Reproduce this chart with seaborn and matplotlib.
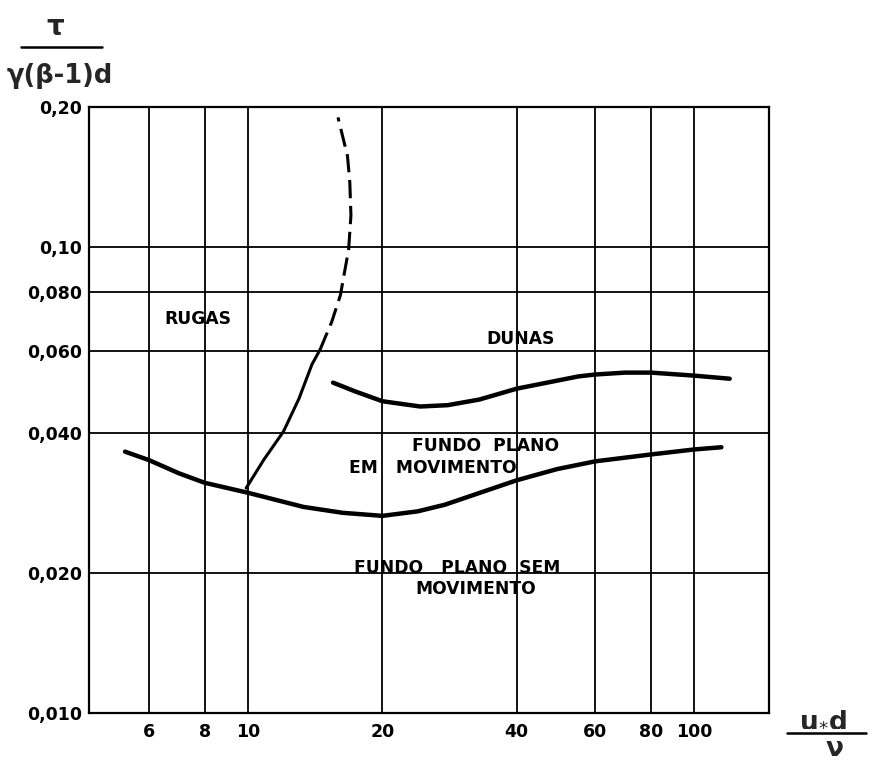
import matplotlib
matplotlib.use("Agg")
import matplotlib.pyplot as plt
import seaborn as sns
import pandas as pd
from matplotlib.ticker import NullLocator, FixedLocator, FixedFormatter
from matplotlib.lines import Line2D

# ---- data ----
x_ticks = [6, 8, 10, 20, 40, 60, 80, 100]
x_tick_labels = ["6", "8", "10", "20", "40", "60", "80", "100"]
y_ticks = [0.010, 0.020, 0.040, 0.060, 0.080, 0.10, 0.20]
y_tick_labels = ["0,010", "0,020", "0,040", "0,060", "0,080", "0,10", "0,20"]

# lower limit of "fundo plano em movimento"
lower_x = [5.3, 6, 7, 8, 10, 13.3, 16.3, 20, 24, 27.6, 40, 49.3, 60, 80, 100, 115]
lower_y = [0.0364, 0.0349, 0.0327, 0.0312, 0.0297, 0.0277, 0.0269, 0.0265,
           0.0271, 0.0280, 0.0316, 0.0334, 0.0347, 0.0359, 0.0368, 0.0372]
# lower limit of "dunas"
upper_x = [15.5, 17.4, 20, 24.3, 28, 33, 40, 55, 60, 70, 80, 100, 120]
upper_y = [0.0512, 0.0490, 0.0467, 0.0455, 0.0458, 0.0471, 0.0497, 0.0528,
           0.0533, 0.0538, 0.0538, 0.0530, 0.0522]
# rugas boundary (solid part)
rug_solid_x = [9.9, 10.85, 12.0, 13.0, 13.9, 14.5]
rug_solid_y = [0.0304, 0.0350, 0.0402, 0.0473, 0.0560, 0.0603]
# rugas boundary (dashed part)
rug_dash_x = [14.5, 15.4, 16.1, 16.8, 17.0, 16.9, 16.7, 15.9]
rug_dash_y = [0.0603, 0.0692, 0.0789, 0.099, 0.117, 0.138, 0.157, 0.19]

region_labels = ["RUGAS", "DUNAS", "FUNDO  PLANO", "EM   MOVIMENTO",
                 "FUNDO   PLANO  SEM", "MOVIMENTO"]
region_x = [7.7, 40.8, 34.0, 26.0, 29.4, 32.4]
region_y = [0.0702, 0.0636, 0.0374, 0.0336, 0.0205, 0.01849]

# ---- figure ----
sns.set_style("white")
plt.rcParams["font.family"] = ["DejaVu Sans"]

W, H = 869, 761
fig = plt.figure(figsize=(W / 100, H / 100), dpi=100)
L, R, T, B = 89, 769, 107, 713
ax = fig.add_axes([L / W, 1 - B / H, (R - L) / W, (B - T) / H])

curve_kw = dict(color="black", estimator=None, sort=False, legend=False, ax=ax)
sns.lineplot(data=pd.DataFrame({"x": lower_x, "y": lower_y}), x="x", y="y",
             lw=3.2, **curve_kw)
sns.lineplot(data=pd.DataFrame({"x": upper_x, "y": upper_y}), x="x", y="y",
             lw=3.2, **curve_kw)
sns.lineplot(data=pd.DataFrame({"x": rug_solid_x, "y": rug_solid_y}), x="x", y="y",
             lw=2.2, **curve_kw)
sns.lineplot(data=pd.DataFrame({"x": rug_dash_x, "y": rug_dash_y}), x="x", y="y",
             lw=2.2, linestyle=(0, (6, 2.5)), **curve_kw)

ax.set_xscale("log")
ax.set_yscale("log")
ax.set_xlim(4.4, 147)
ax.set_ylim(0.010, 0.20)

ax.xaxis.set_major_locator(FixedLocator(x_ticks))
ax.xaxis.set_major_formatter(FixedFormatter(x_tick_labels))
ax.xaxis.set_minor_locator(NullLocator())
ax.yaxis.set_major_locator(FixedLocator(y_ticks))
ax.yaxis.set_major_formatter(FixedFormatter(y_tick_labels))
ax.yaxis.set_minor_locator(NullLocator())

ax.grid(True, which="major", color="black", lw=1.3)
ax.tick_params(axis="both", length=0, labelsize=12.5, colors="black")
ax.tick_params(axis="x", pad=7)
ax.tick_params(axis="y", pad=5)
for lab in ax.get_xticklabels() + ax.get_yticklabels():
    lab.set_fontweight("bold")
ax.set_xlabel("")
ax.set_ylabel("")
for sp in ax.spines.values():
    sp.set_color("black")
    sp.set_linewidth(1.6)
    sp.set_visible(True)

for txt, xx, yy in zip(region_labels, region_x, region_y):
    ax.text(xx, yy, txt, ha="center", va="center", fontsize=12.3,
            fontweight="bold", color="black")

# y-axis label as a fraction at the top-left
fig.text(55 / W, 1 - 27 / H, "τ", ha="center", va="center", fontsize=20,
         fontweight="bold")
fig.add_artist(Line2D([21 / W, 102 / W], [1 - 47 / H, 1 - 47 / H],
                      color="black", lw=1.8, transform=fig.transFigure))
fig.text(60 / W, 1 - 76 / H, "γ(β-1)d", ha="center", va="center", fontsize=18.5,
         fontweight="bold")

# x-axis label as a fraction at the bottom-right
fig.text(823 / W, 1 - 719 / H, r"u$_{*}$d", ha="center", va="center", fontsize=19,
         fontweight="bold")
fig.add_artist(Line2D([787 / W, 866 / W], [1 - 733 / H, 1 - 733 / H],
                      color="black", lw=1.8, transform=fig.transFigure))
fig.text(835 / W, 1 - 749 / H, "ν", ha="center", va="center", fontsize=19,
         fontweight="bold")

fig.savefig("out.png", dpi=100, facecolor="white")
